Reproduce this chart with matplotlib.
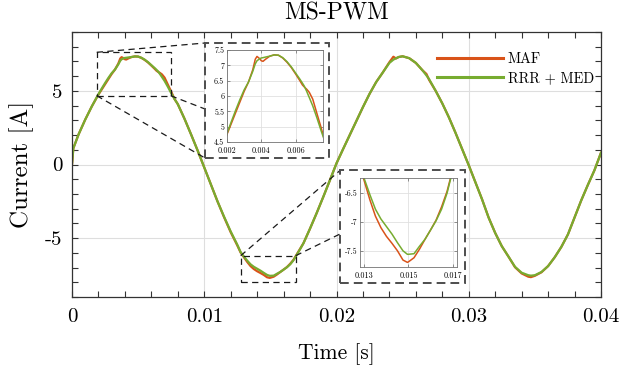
import matplotlib
matplotlib.use("Agg")
import matplotlib.pyplot as plt
from matplotlib.lines import Line2D
from matplotlib.patches import Rectangle
from matplotlib.ticker import FixedLocator, FixedFormatter, MultipleLocator

plt.rcParams['font.family'] = 'serif'
plt.rcParams['font.serif'] = ['cmr10', 'DejaVu Serif']
plt.rcParams['axes.unicode_minus'] = False
plt.rcParams['axes.formatter.use_mathtext'] = True

# ---------------- data ----------------
time_s = [0, 0.0001, 0.0005, 0.001, 0.0015, 0.002, 0.00225, 0.0025, 0.00275, 0.003,
          0.00325, 0.0035, 0.00365, 0.00375, 0.0039, 0.004, 0.0041, 0.00425, 0.0045, 0.00475,
          0.005, 0.00525, 0.0055, 0.00575, 0.006, 0.00625, 0.0064, 0.0065, 0.00665, 0.0068,
          0.007, 0.00725, 0.0075, 0.00775, 0.008, 0.0085, 0.009, 0.0095, 0.01, 0.0105,
          0.011, 0.0115, 0.012, 0.0125, 0.01275, 0.013, 0.01325, 0.0135, 0.01375, 0.014,
          0.01425, 0.0145, 0.01475, 0.01495, 0.015, 0.01525, 0.0155, 0.01575, 0.016, 0.01625,
          0.0165, 0.01675, 0.017, 0.01725, 0.0175, 0.018, 0.0185, 0.019, 0.0195, 0.02,
          0.0205, 0.021, 0.0215, 0.022, 0.0225, 0.023, 0.0235, 0.024, 0.0243, 0.0245,
          0.0247, 0.025, 0.0255, 0.026, 0.0265, 0.0268, 0.027, 0.0275, 0.028, 0.0285,
          0.029, 0.0295, 0.03, 0.0305, 0.031, 0.0315, 0.032, 0.0325, 0.033, 0.0335,
          0.034, 0.0345, 0.0347, 0.035, 0.0355, 0.036, 0.0365, 0.037, 0.0375, 0.038,
          0.0385, 0.039, 0.0395, 0.04]

rrr_med = [0.0, 1.1, 2.05, 3.05, 3.95, 4.78, 5.16, 5.53, 5.88, 6.2,
           6.45, 6.8, 7.05, 7.15, 7.21, 7.24, 7.25, 7.27, 7.3, 7.34,
           7.33, 7.25, 7.12, 6.95, 6.75, 6.55, 6.42, 6.33, 6.15, 5.95,
           5.68, 5.28, 4.85, 4.45, 4.1, 3.12, 2.05, 0.95, -0.2, -1.35,
           -2.5, -3.55, -4.55, -5.45, -5.95, -6.26, -6.53, -6.78, -6.95, -7.08,
           -7.21, -7.36, -7.5, -7.56, -7.56, -7.55, -7.42, -7.3, -7.14, -6.98,
           -6.78, -6.5, -6.12, -5.75, -5.35, -4.35, -3.3, -2.2, -1.07, 0.08,
           1.05, 2.0, 2.95, 3.9, 4.8, 5.6, 6.25, 6.9, 7.12, 7.22,
           7.3, 7.35, 7.22, 6.9, 6.4, 6.05, 5.8, 5.0, 4.15, 3.2,
           2.15, 1.05, -0.05, -1.2, -2.35, -3.6, -4.65, -5.55, -6.25, -6.95,
           -7.35, -7.52, -7.55, -7.52, -7.3, -6.9, -6.3, -5.6, -4.75, -3.6,
           -2.45, -1.4, -0.4, 0.8]

maf = [0.0, 1.1, 2.05, 3.05, 3.95, 4.75, 5.1, 5.45, 5.8, 6.15,
       6.45, 6.85, 7.2, 7.29, 7.22, 7.15, 7.13, 7.2, 7.3, 7.34,
       7.33, 7.24, 7.1, 6.93, 6.72, 6.5, 6.36, 6.3, 6.22, 6.12,
       5.9, 5.42, 4.95, 4.45, 4.1, 3.12, 2.05, 0.95, -0.2, -1.35,
       -2.5, -3.58, -4.6, -5.5, -5.98, -6.3, -6.62, -6.9, -7.1, -7.25,
       -7.37, -7.5, -7.66, -7.7, -7.69, -7.62, -7.47, -7.3, -7.14, -6.97,
       -6.74, -6.47, -6.1, -5.72, -5.35, -4.35, -3.3, -2.2, -1.07, 0.08,
       1.05, 2.0, 2.95, 3.9, 4.8, 5.6, 6.25, 6.95, 7.32, 7.2,
       7.3, 7.35, 7.22, 6.9, 6.4, 6.15, 5.75, 5.0, 4.15, 3.2,
       2.15, 1.05, -0.05, -1.2, -2.35, -3.6, -4.65, -5.55, -6.25, -6.98,
       -7.4, -7.62, -7.65, -7.56, -7.32, -6.9, -6.3, -5.6, -4.75, -3.6,
       -2.45, -1.4, -0.4, 0.8]

series_labels = ['MAF', 'RRR + MED']
x_ticks = [0, 0.01, 0.02, 0.03, 0.04]
x_ticklabels = ['0', '0.01', '0.02', '0.03', '0.04']
y_ticks = [-5, 0, 5]
y_ticklabels = ['-5', '0', '5']
in1_xticks = [0.002, 0.004, 0.006]
in1_xticklabels = ['0.002', '0.004', '0.006']
in1_yticks = [4.5, 5, 5.5, 6, 6.5, 7, 7.5]
in1_yticklabels = ['4.5', '5', '5.5', '6', '6.5', '7', '7.5']
in2_xticks = [0.013, 0.015, 0.017]
in2_xticklabels = ['0.013', '0.015', '0.017']
in2_yticks = [-7.5, -7, -6.5]
in2_yticklabels = ['-7.5', '-7', '-6.5']

# ---------------- style ----------------
C_MAF = '#D95319'
C_RRR = '#77AC30'
W, H = 625, 373


def fx(px):
    return px / W


def fy(py):
    return 1 - py / H


fig = plt.figure(figsize=(W / 100, H / 100), dpi=100)
fig.patch.set_facecolor('white')

ax = fig.add_axes([fx(72), fy(297), (601 - 72) / W, (297 - 32) / H])
ax.plot(time_s, maf, color=C_MAF, lw=1.6, label=series_labels[0])
ax.plot(time_s, rrr_med, color=C_RRR, lw=1.6, label=series_labels[1])
ax.set_xlim(0, 0.04)
ax.set_ylim(-9, 9)
ax.xaxis.set_major_locator(FixedLocator(x_ticks))
ax.xaxis.set_major_formatter(FixedFormatter(x_ticklabels))
ax.yaxis.set_major_locator(FixedLocator(y_ticks))
ax.yaxis.set_major_formatter(FixedFormatter(y_ticklabels))
ax.xaxis.set_minor_locator(MultipleLocator(0.002))
ax.yaxis.set_minor_locator(MultipleLocator(1))
ax.tick_params(which='both', direction='in', top=True, right=True,
               length=4, width=0.8, color='0.2')
ax.tick_params(axis='x', which='major', labelsize=15, pad=8)
ax.tick_params(axis='y', which='major', labelsize=15, pad=7)
ax.grid(True, which='major', color='0.87', lw=0.8)
ax.set_axisbelow(True)
for s in ax.spines.values():
    s.set_color('0.2')
    s.set_linewidth(0.9)
ax.set_xlabel('Time [s]', fontsize=15.5)
ax.xaxis.set_label_coords(0.5, (297 - 343) / 265)
ax.set_ylabel('Current [A]', fontsize=18)
ax.yaxis.set_label_coords((34 - 72) / 529, 0.5)
fig.text(fx(336.5), fy(20), 'MS-PWM', fontsize=17, ha='center', va='baseline')

leg = ax.legend(loc='upper left', bbox_to_anchor=(fx(437), fy(52)),
                bbox_transform=fig.transFigure, frameon=False, fontsize=10.3,
                handlelength=4.6, handletextpad=0.35, labelspacing=0.38,
                borderpad=0, borderaxespad=0)
for h in leg.get_lines():
    h.set_linewidth(2.2)

# ---------------- zoom boxes and connectors ----------------
def fig_line(p0, p1):
    fig.add_artist(Line2D([fx(p0[0]), fx(p1[0])], [fy(p0[1]), fy(p1[1])],
                          transform=fig.transFigure, color='0.1', lw=0.9,
                          linestyle=(0, (5, 3.5)), zorder=3))


def fig_rect(x0, y0, x1, y1, fill=False, color='0.1', lw=0.9, dash=(5, 3.5)):
    fig.add_artist(Rectangle((fx(x0), fy(y1)), fx(x1) - fx(x0), fy(y0) - fy(y1),
                             transform=fig.transFigure, facecolor='white' if fill else 'none',
                             edgecolor=color, lw=lw, linestyle=(0, dash), zorder=3))


# region rectangles on the main plot
fig_rect(96.7, 52.3, 170.7, 95.7)
fig_rect(240.7, 255.7, 295.7, 282)
# connector lines
fig_line((96.7, 52.3), (205, 43))
fig_line((96.7, 95.7), (205, 158))
fig_line((170.7, 95.7), (205, 109))
fig_line((240.7, 255.7), (340, 170.5))
fig_line((295.7, 255.7), (340, 234))
# dashed boxes surrounding the insets
fig_rect(205, 43, 329, 158, fill=True, color='0.3', lw=1.4, dash=(4.5, 2.6))
fig_rect(340, 170, 465, 283, fill=True, color='0.3', lw=1.4, dash=(4.5, 2.6))


def make_inset(px0, py0, px1, py1, xlim, ylim, xt, xtl, yt, ytl):
    ia = fig.add_axes([fx(px0), fy(py1), (px1 - px0) / W, (py1 - py0) / H])
    ia.set_zorder(5)
    ia.set_facecolor('white')
    ia.plot(time_s, maf, color=C_MAF, lw=1.1)
    ia.plot(time_s, rrr_med, color=C_RRR, lw=1.1)
    ia.set_xlim(*xlim)
    ia.set_ylim(*ylim)
    ia.xaxis.set_major_locator(FixedLocator(xt))
    ia.xaxis.set_major_formatter(FixedFormatter(xtl))
    ia.yaxis.set_major_locator(FixedLocator(yt))
    ia.yaxis.set_major_formatter(FixedFormatter(ytl))
    ia.tick_params(which='both', direction='in', top=True, right=True,
                   length=2, width=0.5, color='0.4', labelsize=5.8)
    ia.tick_params(axis='x', pad=3)
    ia.tick_params(axis='y', pad=2)
    ia.grid(True, color='0.88', lw=0.6)
    ia.set_axisbelow(True)
    for s in ia.spines.values():
        s.set_color('0.45')
        s.set_linewidth(0.6)
    return ia


make_inset(227, 50, 323, 142, (0.002, 0.0076), (4.5, 7.5),
           in1_xticks, in1_xticklabels, in1_yticks, in1_yticklabels)
make_inset(360, 178, 457, 267, (0.0128, 0.0172), (-7.78, -6.24),
           in2_xticks, in2_xticklabels, in2_yticks, in2_yticklabels)

fig.savefig('out.png', dpi=100, facecolor='white')
